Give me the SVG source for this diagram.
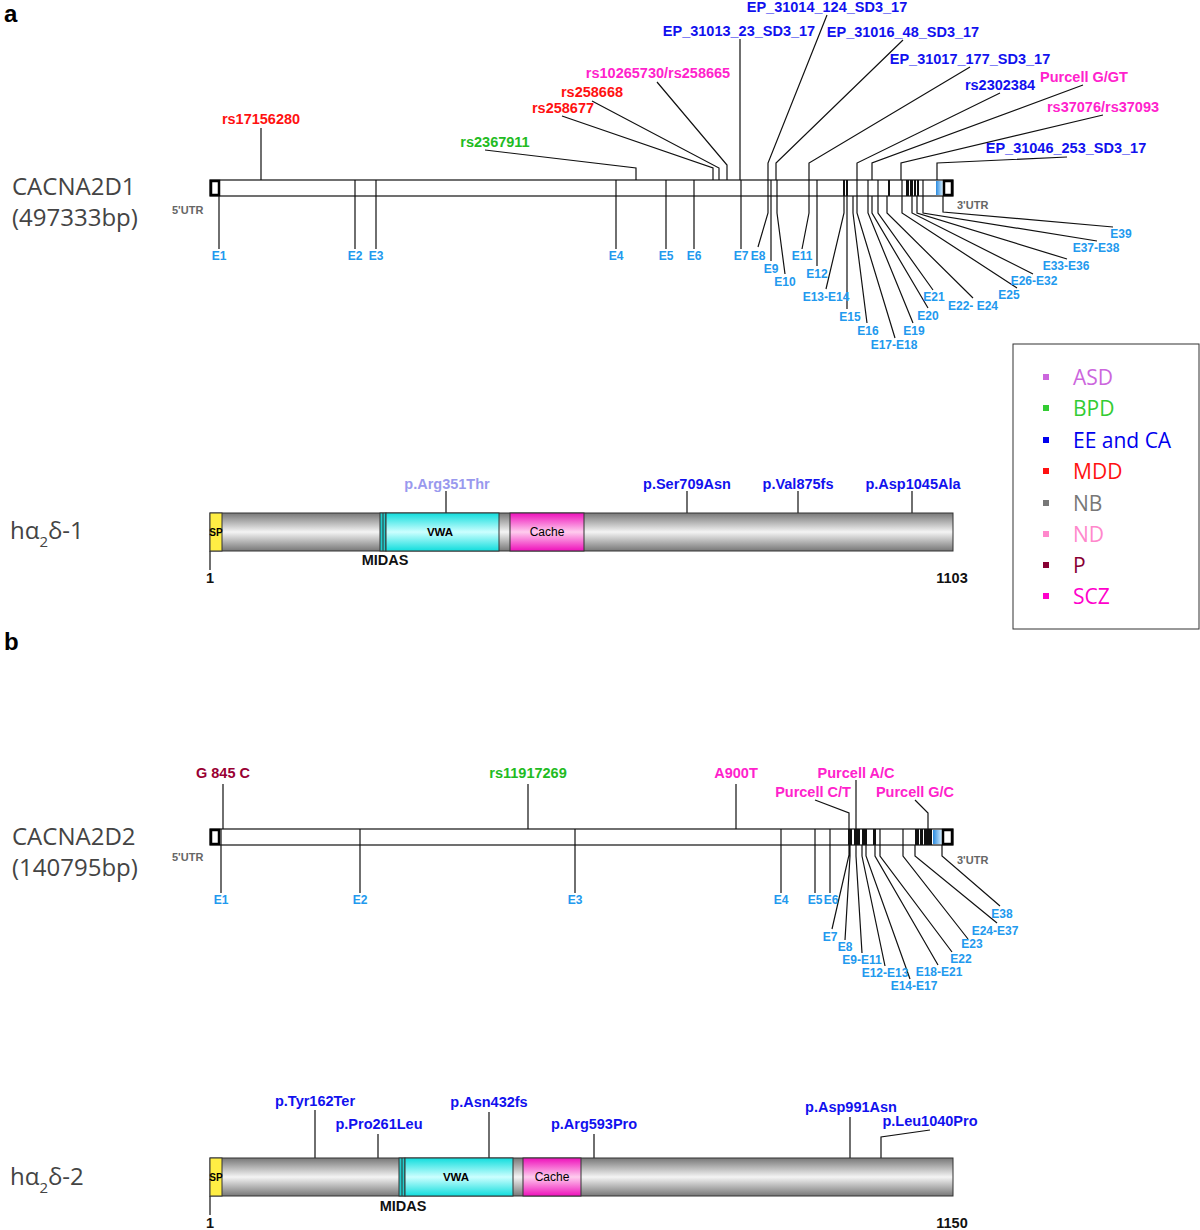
<svg xmlns="http://www.w3.org/2000/svg" width="1200" height="1230" viewBox="0 0 1200 1230">
<defs>
<linearGradient id="gray" x1="0" y1="0" x2="0" y2="1"><stop offset="0" stop-color="#777"/><stop offset="0.5" stop-color="#f4f4f4"/><stop offset="1" stop-color="#777"/></linearGradient>
<linearGradient id="cyan" x1="0" y1="0" x2="0" y2="1"><stop offset="0" stop-color="#11dddd"/><stop offset="0.5" stop-color="#ccffff"/><stop offset="1" stop-color="#11dddd"/></linearGradient>
<linearGradient id="mag" x1="0" y1="0" x2="0" y2="1"><stop offset="0" stop-color="#ee11bb"/><stop offset="0.5" stop-color="#ffccee"/><stop offset="1" stop-color="#ee11bb"/></linearGradient>
<linearGradient id="blu" x1="0" y1="0" x2="1" y2="0"><stop offset="0" stop-color="#2a8be0"/><stop offset="1" stop-color="#d8efff"/></linearGradient>
</defs>
<style>
text{font-family:"Liberation Sans",Arial,sans-serif}
.ln{stroke:#111;stroke-width:1.2;fill:none}
.ex{font-size:12px;font-weight:bold;fill:#2299ee;text-anchor:middle}
.lb{font-size:14.5px;font-weight:bold;text-anchor:middle}
.gn{font-family:"Open Sans","Noto Sans",sans-serif;font-size:24px;fill:#444}
.utr{font-size:11px;font-weight:bold;fill:#666}
.bar{fill:#fff;stroke:#111;stroke-width:1.2}
.blk{fill:#111}
.dom{stroke:#333;stroke-width:1}
.ev{stroke:#111;stroke-width:1.2}
.lg{font-family:"Open Sans","Noto Sans",sans-serif;font-size:21px}
</style>
<text x="4" y="22" font-size="24" font-weight="bold">a</text>
<text x="4" y="650" font-size="24" font-weight="bold">b</text>

<g id="gene1">
<text class="gn" x="12" y="195">CACNA2D1</text>
<text class="gn" x="12" y="226">(497333bp)</text>
<rect class="bar" x="210" y="180" width="743" height="16"/>
<rect x="211" y="181" width="8" height="14" fill="#fff" stroke="#000" stroke-width="2.5"/>
<rect x="936" y="181" width="7" height="14" fill="url(#blu)"/>
<rect x="944" y="181" width="8" height="14" fill="#fff" stroke="#000" stroke-width="2.5"/>
<g class="ev">
<line x1="355" y1="180" x2="355" y2="196"/><line x1="376" y1="180" x2="376" y2="196"/><line x1="616" y1="180" x2="616" y2="196"/><line x1="666" y1="180" x2="666" y2="196"/><line x1="694" y1="180" x2="694" y2="196"/><line x1="741" y1="180" x2="741" y2="196"/><line x1="768" y1="180" x2="768" y2="196"/><line x1="771" y1="180" x2="771" y2="196"/><line x1="777" y1="180" x2="777" y2="196"/><line x1="809" y1="180" x2="809" y2="196"/><line x1="817" y1="180" x2="817" y2="196"/><line x1="857" y1="180" x2="857" y2="196"/><line x1="868" y1="180" x2="868" y2="196"/><line x1="878" y1="180" x2="878" y2="196"/><line x1="902" y1="180" x2="902" y2="196"/><line x1="923" y1="180" x2="923" y2="196"/>
</g>
<rect class="blk" x="843" y="180" width="2" height="16"/><rect class="blk" x="846" y="180" width="2" height="16"/><rect class="blk" x="888" y="180" width="2" height="16"/>
<rect class="blk" x="906" y="180" width="3" height="16"/><rect class="blk" x="910" y="180" width="3" height="16"/><rect class="blk" x="914" y="180" width="2" height="16"/><rect class="blk" x="917" y="180" width="2" height="16"/>
<text class="utr" x="172" y="214">5'UTR</text>
<text class="utr" x="957" y="209">3'UTR</text>
</g>

<g id="connectors1">
<path class="ln" d="M219 196V249M355 196V249M376 196V249M616 196V249M666 196V249M694 196V249M741 196V249M768 196V213L758 247M771 196V261M777 196V213L785 274M809 196V213L802 249M817 196V266M844 196V213L826 289M847 196V309M853 196V213L867 323M857 196V213L895 338M868 196V213L913 323M872 196V213L928 308M878 196V213L933 290M887 196V213L973 298M902 196V213L1017 288M912 196V213L1033 274M917 196V213L1067 259M923 196V213L1097 241M943 196V212L1113 227"/>
<path class="ln" d="M261 180V128M636 180V168L485 150M713 180V168L562 116M719 180V168L592 101M727 180V165L657 82M740 180V39M768 180V163L827 15M776 180V163L903 40M809 180V163L970 67M857 180V163L1000 93M872 180V163L1083 85M901 180V163L1103 115M937 180V163L1067 157"/>
<path class="ln" d="M446 513V491M687 513V491M798 513V491M912 513V491M210 551V570"/>
<path class="ln" d="M223 829V784M528 829V784M736 829V784M849 829V813L815 800M856 829V780M928 829V813L915 800"/>
<path class="ln" d="M221 845V893M360 845V893M575 845V893M781 845V893M815 845V893M830 845V893M849 845V855L832 929M850 845V856L845 940M856 845V856L862 953M862 845V856L885 966M866 845V856L910 979M875 845V856L938 965M880 845V856L952 952M903 845V856L968 939M915 845V856L997 923M942 845V856L1000 906"/>
<path class="ln" d="M315 1158V1110M378 1158V1134M489 1158V1112M594 1158V1134M850 1158V1117M881 1158V1137L930 1130M210 1196V1215"/>
</g>

<g id="labels1">
<text class="ex" x="219" y="260">E1</text><text class="ex" x="355" y="260">E2</text><text class="ex" x="376" y="260">E3</text><text class="ex" x="616" y="260">E4</text><text class="ex" x="666" y="260">E5</text><text class="ex" x="694" y="260">E6</text><text class="ex" x="741" y="260">E7</text><text class="ex" x="758" y="260">E8</text><text class="ex" x="771" y="273">E9</text><text class="ex" x="785" y="286">E10</text><text class="ex" x="802" y="260">E11</text><text class="ex" x="817" y="278">E12</text><text class="ex" x="826" y="301">E13-E14</text><text class="ex" x="850" y="321">E15</text><text class="ex" x="868" y="335">E16</text><text class="ex" x="894" y="349">E17-E18</text><text class="ex" x="914" y="335">E19</text><text class="ex" x="928" y="320">E20</text><text class="ex" x="934" y="301">E21</text><text class="ex" x="973" y="310">E22- E24</text><text class="ex" x="1009" y="299">E25</text><text class="ex" x="1034" y="285">E26-E32</text><text class="ex" x="1066" y="270">E33-E36</text><text class="ex" x="1096" y="252">E37-E38</text><text class="ex" x="1121" y="238">E39</text>
<text class="lb" x="261" y="124" fill="#ff1111">rs17156280</text>
<text class="lb" x="495" y="147" fill="#22bb22">rs2367911</text>
<text class="lb" x="563" y="113" fill="#ff1111">rs258677</text>
<text class="lb" x="592" y="97" fill="#ff1111">rs258668</text>
<text class="lb" x="658" y="78" fill="#ff22cc">rs10265730/rs258665</text>
<text class="lb" x="739" y="36" fill="#1111ee">EP_31013_23_SD3_17</text>
<text class="lb" x="827" y="12" fill="#1111ee">EP_31014_124_SD3_17</text>
<text class="lb" x="903" y="37" fill="#1111ee">EP_31016_48_SD3_17</text>
<text class="lb" x="970" y="64" fill="#1111ee">EP_31017_177_SD3_17</text>
<text class="lb" x="1000" y="90" fill="#1111ee">rs2302384</text>
<text class="lb" x="1084" y="82" fill="#ff22cc">Purcell G/GT</text>
<text class="lb" x="1103" y="112" fill="#ff22cc">rs37076/rs37093</text>
<text class="lb" x="1066" y="153" fill="#1111ee">EP_31046_253_SD3_17</text>
</g>

<g id="protein1">
<text class="gn" x="10" y="539">hα<tspan font-size="15" dy="8">2</tspan><tspan dy="-8">δ-1</tspan></text>
<rect x="210" y="513" width="743" height="38" fill="url(#gray)" stroke="#333"/>
<rect class="dom" x="210" y="513" width="12" height="38" fill="#ffee44"/>
<text x="216" y="536" font-size="10" font-weight="bold" text-anchor="middle">SP</text>
<rect class="dom" x="380" y="513" width="6" height="38" fill="#22cccc"/>
<line x1="383" y1="513" x2="383" y2="551" stroke="#333"/>
<rect class="dom" x="386" y="513" width="113" height="38" fill="url(#cyan)"/>
<text x="440" y="536" font-size="11.5" font-weight="bold" text-anchor="middle">VWA</text>
<rect class="dom" x="510" y="513" width="74" height="38" fill="url(#mag)"/>
<text x="547" y="536" font-size="12" text-anchor="middle">Cache</text>
<text class="lb" x="385" y="565" fill="#111">MIDAS</text>
<text class="lb" x="210" y="583" fill="#111">1</text>
<text class="lb" x="952" y="583" fill="#111">1103</text>
<text class="lb" x="447" y="489" fill="#9999ee">p.Arg351Thr</text>
<text class="lb" x="687" y="489" fill="#1111ee">p.Ser709Asn</text>
<text class="lb" x="798" y="489" fill="#1111ee">p.Val875fs</text>
<text class="lb" x="913" y="489" fill="#1111ee">p.Asp1045Ala</text>
</g>

<g id="legend">
<rect x="1013" y="344" width="186" height="285" fill="#fff" stroke="#333"/>
<rect x="1043" y="374" width="6" height="6" fill="#cc66dd"/><text class="lg" x="1073" y="385" fill="#cc66dd">ASD</text>
<rect x="1043" y="405" width="6" height="6" fill="#33cc33"/><text class="lg" x="1073" y="416" fill="#33cc33">BPD</text>
<rect x="1043" y="437" width="6" height="6" fill="#0000ee"/><text class="lg" x="1073" y="448" fill="#0000ee">EE and CA</text>
<rect x="1043" y="468" width="6" height="6" fill="#ff1111"/><text class="lg" x="1073" y="479" fill="#ff1111">MDD</text>
<rect x="1043" y="500" width="6" height="6" fill="#777"/><text class="lg" x="1073" y="511" fill="#777">NB</text>
<rect x="1043" y="531" width="6" height="6" fill="#ff88cc"/><text class="lg" x="1073" y="542" fill="#ff88cc">ND</text>
<rect x="1043" y="562" width="6" height="6" fill="#880033"/><text class="lg" x="1073" y="573" fill="#880033">P</text>
<rect x="1043" y="593" width="6" height="6" fill="#ff00cc"/><text class="lg" x="1073" y="604" fill="#ff00cc">SCZ</text>
</g>

<g id="gene2">
<text class="gn" x="12" y="845">CACNA2D2</text>
<text class="gn" x="12" y="876">(140795bp)</text>
<rect class="bar" x="210" y="829" width="743" height="16"/>
<rect x="211" y="830" width="8" height="14" fill="#fff" stroke="#000" stroke-width="2.5"/>
<rect x="933" y="830" width="9" height="14" fill="url(#blu)"/>
<rect x="943" y="830" width="9" height="14" fill="#fff" stroke="#000" stroke-width="2.5"/>
<g class="ev">
<line x1="221" y1="829" x2="221" y2="845"/><line x1="360" y1="829" x2="360" y2="845"/><line x1="575" y1="829" x2="575" y2="845"/><line x1="781" y1="829" x2="781" y2="845"/><line x1="815" y1="829" x2="815" y2="845"/><line x1="830" y1="829" x2="830" y2="845"/><line x1="880" y1="829" x2="880" y2="845"/><line x1="903" y1="829" x2="903" y2="845"/>
</g>
<rect class="blk" x="848" y="829" width="4" height="16"/><rect class="blk" x="854" y="829" width="6" height="16"/><rect class="blk" x="862" y="829" width="5" height="16"/><rect class="blk" x="873" y="829" width="3" height="16"/><rect class="blk" x="915" y="829" width="4" height="16"/><rect class="blk" x="920" y="829" width="3" height="16"/><rect class="blk" x="924" y="829" width="8" height="16"/>
<text class="utr" x="172" y="861">5'UTR</text>
<text class="utr" x="957" y="864">3'UTR</text>
</g>

<g id="labels2">
<text class="ex" x="221" y="904">E1</text><text class="ex" x="360" y="904">E2</text><text class="ex" x="575" y="904">E3</text><text class="ex" x="781" y="904">E4</text><text class="ex" x="815" y="904">E5</text><text class="ex" x="831" y="904">E6</text><text class="ex" x="830" y="941">E7</text><text class="ex" x="845" y="951">E8</text><text class="ex" x="862" y="964">E9-E11</text><text class="ex" x="885" y="977">E12-E13</text><text class="ex" x="914" y="990">E14-E17</text><text class="ex" x="939" y="976">E18-E21</text><text class="ex" x="961" y="963">E22</text><text class="ex" x="972" y="948">E23</text><text class="ex" x="995" y="935">E24-E37</text><text class="ex" x="1002" y="918">E38</text>
<text class="lb" x="223" y="778" fill="#990033">G 845 C</text>
<text class="lb" x="528" y="778" fill="#22bb22">rs11917269</text>
<text class="lb" x="736" y="778" fill="#ff22cc">A900T</text>
<text class="lb" x="813" y="797" fill="#ff22cc">Purcell C/T</text>
<text class="lb" x="856" y="778" fill="#ff22cc">Purcell A/C</text>
<text class="lb" x="915" y="797" fill="#ff22cc">Purcell G/C</text>
</g>

<g id="protein2">
<text class="gn" x="10" y="1185">hα<tspan font-size="15" dy="8">2</tspan><tspan dy="-8">δ-2</tspan></text>
<rect x="210" y="1158" width="743" height="38" fill="url(#gray)" stroke="#333"/>
<rect class="dom" x="210" y="1158" width="12" height="38" fill="#ffee44"/>
<text x="216" y="1181" font-size="10" font-weight="bold" text-anchor="middle">SP</text>
<rect class="dom" x="399" y="1158" width="6" height="38" fill="#22cccc"/>
<line x1="402" y1="1158" x2="402" y2="1196" stroke="#333"/>
<rect class="dom" x="405" y="1158" width="108" height="38" fill="url(#cyan)"/>
<text x="456" y="1181" font-size="11.5" font-weight="bold" text-anchor="middle">VWA</text>
<rect class="dom" x="523" y="1158" width="58" height="38" fill="url(#mag)"/>
<text x="552" y="1181" font-size="12" text-anchor="middle">Cache</text>
<text class="lb" x="403" y="1211" fill="#111">MIDAS</text>
<text class="lb" x="210" y="1228" fill="#111">1</text>
<text class="lb" x="952" y="1228" fill="#111">1150</text>
<text class="lb" x="315" y="1106" fill="#1111ee">p.Tyr162Ter</text>
<text class="lb" x="379" y="1129" fill="#1111ee">p.Pro261Leu</text>
<text class="lb" x="489" y="1107" fill="#1111ee">p.Asn432fs</text>
<text class="lb" x="594" y="1129" fill="#1111ee">p.Arg593Pro</text>
<text class="lb" x="851" y="1112" fill="#1111ee">p.Asp991Asn</text>
<text class="lb" x="930" y="1126" fill="#1111ee">p.Leu1040Pro</text>
</g>
</svg>
